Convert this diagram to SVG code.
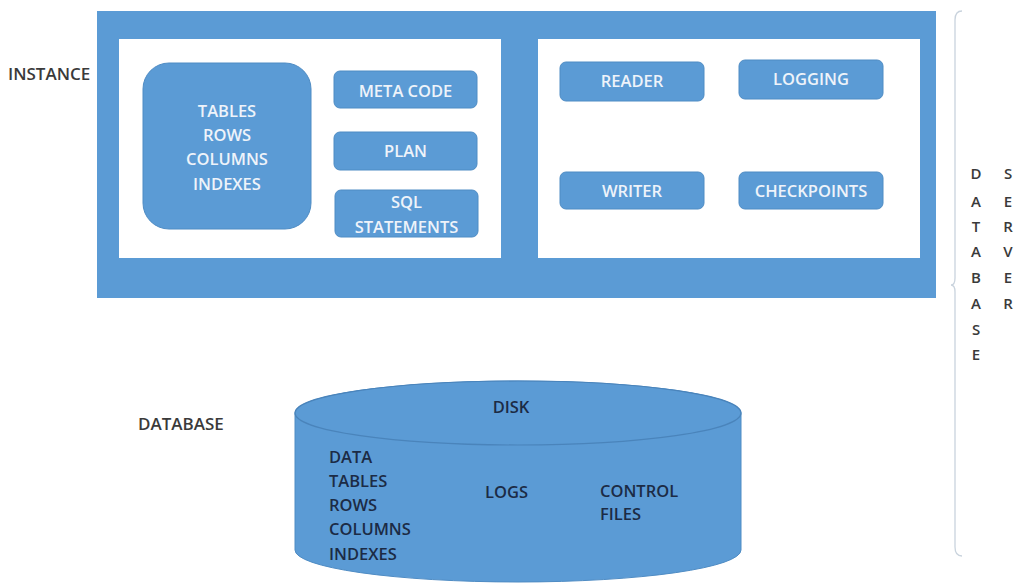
<svg xmlns="http://www.w3.org/2000/svg" width="1021" height="584" viewBox="0 0 1021 584">
  <style>
    .blue { fill: #5b9bd5; }
    .box { fill: #5b9bd5; stroke: #4f8cc4; stroke-width: 1; }
    .panel { fill: #ffffff; }
    .lt { font-family: "Open Sans", "Liberation Sans", sans-serif; font-size: 16.5px; font-weight: 600; fill: #eef3fa; text-anchor: middle; }
    .dk { font-family: "Open Sans", "Liberation Sans", sans-serif; font-size: 16.5px; font-weight: 600; fill: #1c2b45; }
    .lbl { font-family: "Open Sans", "Liberation Sans", sans-serif; font-size: 17px; font-weight: 600; fill: #3a3a3a; }
    .vt { font-family: "Open Sans", "Liberation Sans", sans-serif; font-size: 15px; font-weight: 600; fill: #3a3a3a; text-anchor: middle; }
  </style>
  <rect width="1021" height="584" fill="#ffffff"/>

  <!-- side labels -->
  <text class="lbl" x="8" y="80">INSTANCE</text>
  <text class="lbl" x="138" y="430">DATABASE</text>

  <!-- instance frame -->
  <g id="instance">
    <rect class="blue" x="97" y="11" width="839" height="287"/>
    <rect class="panel" x="119" y="39" width="382" height="219"/>
    <rect class="panel" x="538" y="39" width="382" height="219"/>
  </g>

  <!-- memory structures -->
  <g id="tables">
    <rect class="box" x="143" y="63" width="168" height="166" rx="26"/>
    <text class="lt" x="227" y="117">TABLES</text>
    <text class="lt" x="227" y="141">ROWS</text>
    <text class="lt" x="227" y="165">COLUMNS</text>
    <text class="lt" x="227" y="190">INDEXES</text>
  </g>
  <g id="meta-code">
    <rect class="box" x="334" y="71" width="143" height="37" rx="6"/>
    <text class="lt" x="405.5" y="97">META CODE</text>
  </g>
  <g id="plan">
    <rect class="box" x="334" y="132" width="143" height="38" rx="6"/>
    <text class="lt" x="405.5" y="157">PLAN</text>
  </g>
  <g id="sql-statements">
    <rect class="box" x="335" y="190" width="143" height="47" rx="6"/>
    <text class="lt" x="406.5" y="208">SQL</text>
    <text class="lt" x="406.5" y="233">STATEMENTS</text>
  </g>

  <!-- background processes -->
  <g id="reader">
    <rect class="box" x="560" y="62" width="144" height="39" rx="6"/>
    <text class="lt" x="632" y="87">READER</text>
  </g>
  <g id="logging">
    <rect class="box" x="739" y="60" width="144" height="39" rx="6"/>
    <text class="lt" x="811" y="85">LOGGING</text>
  </g>
  <g id="writer">
    <rect class="box" x="560" y="172" width="144" height="37" rx="6"/>
    <text class="lt" x="632" y="197">WRITER</text>
  </g>
  <g id="checkpoints">
    <rect class="box" x="739" y="172" width="144" height="37" rx="6"/>
    <text class="lt" x="811" y="197">CHECKPOINTS</text>
  </g>

  <!-- disk cylinder -->
  <g id="disk">
    <path class="blue" d="M295,413 L295,550 A223,32 0 0 0 741,550 L741,413 A223,32 0 0 0 295,413 Z" stroke="#4f8cc4" stroke-width="1"/>
    <ellipse cx="518" cy="413" rx="223" ry="32" fill="#5b9bd5" stroke="#4a84bb" stroke-width="1.2"/>
    <text class="dk" x="511" y="413" text-anchor="middle">DISK</text>
    <text class="dk" x="329" y="463">DATA</text>
    <text class="dk" x="329" y="487">TABLES</text>
    <text class="dk" x="329" y="511">ROWS</text>
    <text class="dk" x="329" y="535">COLUMNS</text>
    <text class="dk" x="329" y="560">INDEXES</text>
    <text class="dk" x="485" y="498">LOGS</text>
    <text class="dk" x="600" y="497">CONTROL</text>
    <text class="dk" x="600" y="520">FILES</text>
  </g>

  <!-- brace spanning instance and database -->
  <g id="connectors">
    <path d="M962,11 Q955,11 955,20 L955,278 Q955,285 951,285 Q955,285 955,292 L955,547 Q955,556 962,556" fill="none" stroke="#c9d3dd" stroke-width="1.3"/>
  </g>

  <g id="database-server">
    <text class="vt" x="976" y="179">D</text>
    <text class="vt" x="976" y="207">A</text>
    <text class="vt" x="976" y="232">T</text>
    <text class="vt" x="976" y="257">A</text>
    <text class="vt" x="976" y="283">B</text>
    <text class="vt" x="976" y="309">A</text>
    <text class="vt" x="976" y="335">S</text>
    <text class="vt" x="976" y="360">E</text>
    <text class="vt" x="1008" y="179">S</text>
    <text class="vt" x="1008" y="207">E</text>
    <text class="vt" x="1008" y="232">R</text>
    <text class="vt" x="1008" y="257">V</text>
    <text class="vt" x="1008" y="283">E</text>
    <text class="vt" x="1008" y="309">R</text>
  </g>
</svg>
